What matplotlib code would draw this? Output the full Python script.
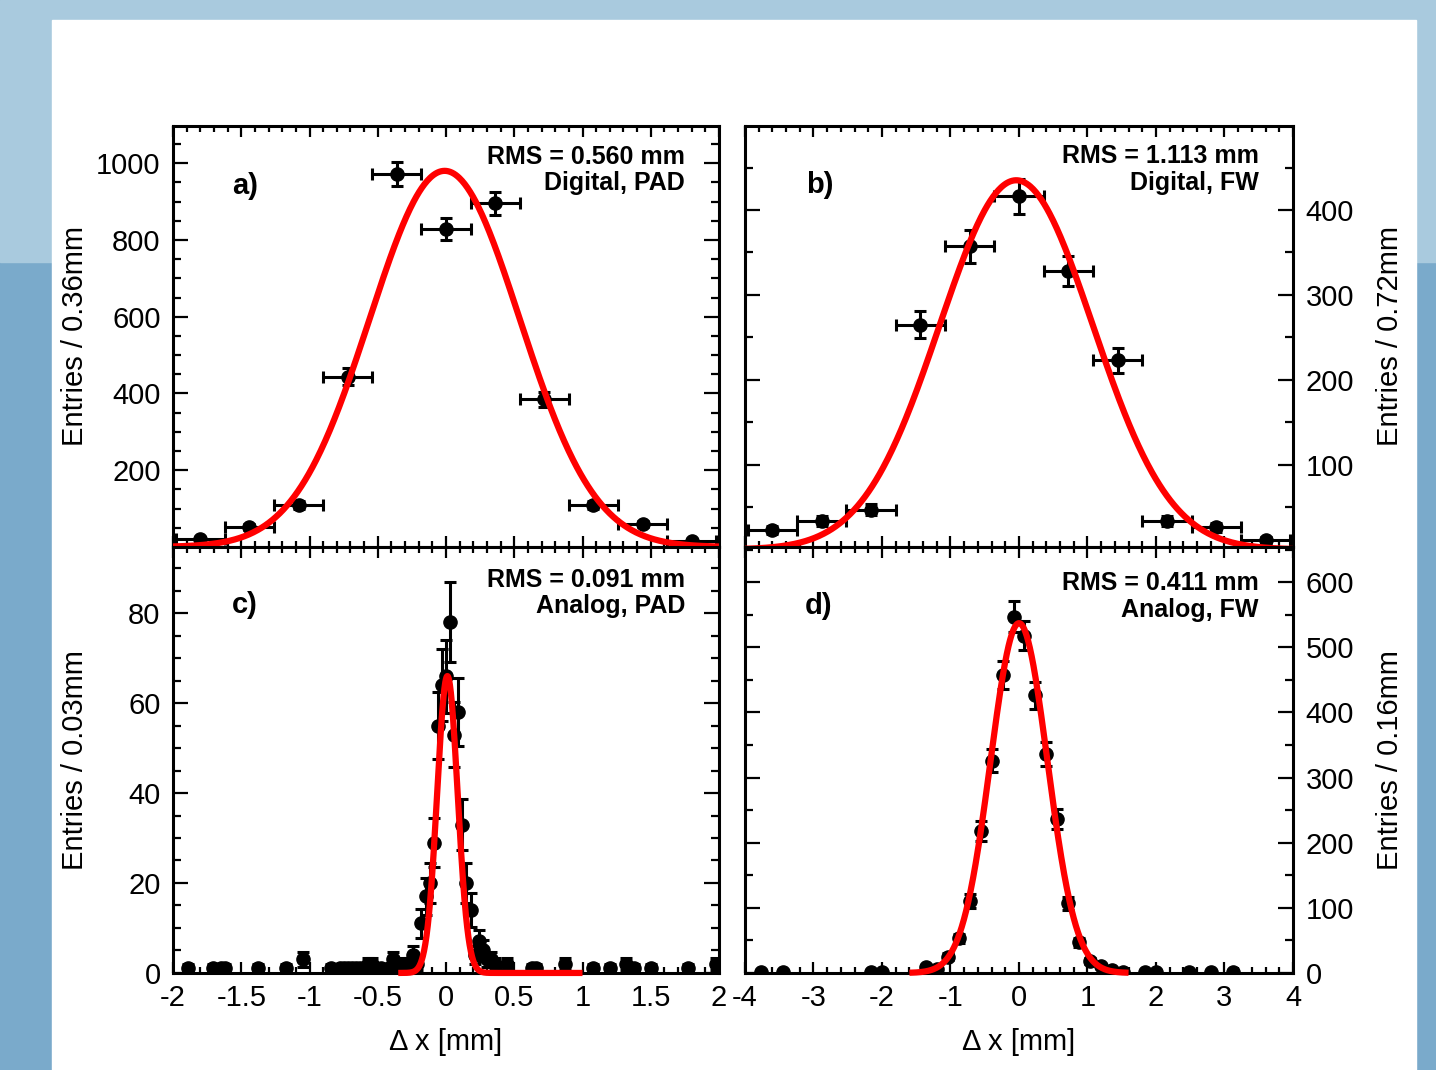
import numpy as np
import matplotlib
matplotlib.use('Agg')
from matplotlib import pyplot as plt
from matplotlib.ticker import MultipleLocator, FixedLocator, FuncFormatter
from matplotlib.patches import Rectangle

plt.rcParams['font.family'] = ['Liberation Sans', 'DejaVu Sans']
plt.rcParams['axes.unicode_minus'] = False

# a) Digital, PAD -- bins of 0.36 mm
a_x = [-1.8, -1.44, -1.08, -0.72, -0.36, 0.0, 0.36, 0.72, 1.08, 1.44, 1.8]
a_n = [22, 52, 109, 444, 972, 829, 896, 385, 110, 59, 16]
a_fit = [980, -0.01, 0.55]          # amplitude, mean, sigma
a_fit_range = [-2.0, 2.0]

# b) Digital, FW -- bins of 0.72 mm
b_x = [-3.6, -2.88, -2.16, -1.44, -0.72, 0.0, 0.72, 1.44, 2.16, 2.88, 3.6]
b_n = [23, 34, 47, 265, 357, 416, 328, 223, 34, 26, 11]
b_fit = [435, -0.04, 1.12]
b_fit_range = [-4.0, 4.0]

# c) Analog, PAD -- bins of 0.03 mm (empty bins not drawn)
c_x = [-1.89, -1.71, -1.65, -1.62, -1.38, -1.17, -1.05, -0.84, -0.78, -0.75,
       -0.72, -0.69, -0.66, -0.63, -0.57, -0.54, -0.51, -0.48, -0.42, -0.39,
       -0.36, -0.33, -0.30, -0.27, -0.24, -0.21, -0.18, -0.15, -0.12, -0.09,
       -0.06, -0.03, 0.0, 0.03, 0.06, 0.09, 0.12, 0.15, 0.18, 0.21,
       0.24, 0.27, 0.30, 0.33, 0.36, 0.45, 0.63, 0.66, 0.87, 1.08,
       1.20, 1.32, 1.38, 1.50, 1.77, 1.98]
c_n = [1, 1, 1, 1, 1, 1, 3, 1, 1, 1,
       1, 1, 1, 1, 2, 2, 1, 1, 1, 3,
       1, 2, 1, 2, 4, 2, 11, 17, 20, 29,
       55, 64, 66, 78, 53, 58, 33, 20, 14, 4,
       7, 5, 3, 3, 2, 2, 1, 1, 2, 1,
       1, 2, 1, 1, 1, 2]
c_fit = [66, 0.01, 0.075]
c_fit_range = [-0.35, 1.0]

# d) Analog, FW -- bins of 0.16 mm
d_x = [-3.76, -3.44, -2.16, -2.0, -1.36, -1.2, -1.04, -0.88, -0.72, -0.56,
       -0.4, -0.24, -0.08, 0.08, 0.24, 0.4, 0.56, 0.72, 0.88, 1.04,
       1.2, 1.36, 1.52, 1.84, 2.0, 2.48, 2.8, 3.12]
d_n = [1, 1, 1, 1, 9, 6, 25, 53, 111, 218,
       326, 457, 547, 518, 426, 336, 237, 107, 47, 18,
       11, 5, 2, 1, 1, 1, 1, 1]
d_fit = [537, 0.0, 0.415]
d_fit_range = [-1.6, 1.6]

x_label = 'Δ x [mm]'


def gaus(x, p):
    return p[0] * np.exp(-0.5 * ((x - p[1]) / p[2]) ** 2)


def short_num(v, pos):
    v = round(v, 6)
    if v == 0:
        return '0'
    return '%g' % v


def draw_panel(ax, x, n, binw, fit, fit_range, xlim, ylim, yticks, yminor,
               xmajor, xminor, rms, tag, letter, ylabel, side):
    n = np.array(n, dtype=float)
    # x errors (half bin); end caps only where the bins are wide
    xcap = 4 if binw > 0.3 else 0
    ax.errorbar(x, n, xerr=binw / 2, fmt='none', ecolor='black',
                elinewidth=2.2, capsize=xcap, capthick=2.2, zorder=2)
    ax.errorbar(x, n, yerr=np.sqrt(n), fmt='o', color='black',
                ms=9.5, elinewidth=2.2, capsize=4, capthick=2.2, zorder=2)
    xf = np.linspace(fit_range[0], fit_range[1], 600)
    ax.plot(xf, gaus(xf, fit), color='red', lw=4.5, zorder=4, clip_on=False,
            solid_capstyle='butt')
    ax.set_xlim(xlim)
    ax.set_ylim(ylim)
    ax.yaxis.set_major_locator(FixedLocator(yticks))
    ax.yaxis.set_minor_locator(MultipleLocator(yminor))
    ax.xaxis.set_major_locator(MultipleLocator(xmajor))
    ax.xaxis.set_minor_locator(MultipleLocator(xminor))
    ax.xaxis.set_major_formatter(FuncFormatter(short_num))
    for s in ax.spines.values():
        s.set_linewidth(2.2)
    ax.tick_params(axis='both', which='both', direction='in', top=True,
                   bottom=True, left=True, right=True, labelsize=21, width=1.6)
    ax.tick_params(axis='y', which='major', length=11, pad=9)
    ax.tick_params(axis='y', which='minor', length=6)
    ax.tick_params(axis='x', which='major', length=8, pad=8)
    ax.tick_params(axis='x', which='minor', length=4.3)
    if side == 'right':
        ax.tick_params(axis='y', labelleft=False, labelright=True)
        ax.yaxis.set_label_position('right')
        ax.set_ylabel(ylabel, fontsize=21)
        ax.yaxis.set_label_coords(1.152, 0.5)
    else:
        ax.set_ylabel(ylabel, fontsize=21)
        ax.yaxis.set_label_coords(-0.154, 0.5)
    ax.text(0.938, rms[1], rms[0], transform=ax.transAxes, ha='right',
            va='center', fontsize=18, fontweight='bold')
    ax.text(0.938, tag[1], tag[0], transform=ax.transAxes, ha='right',
            va='center', fontsize=18, fontweight='bold')
    ax.text(letter[1], letter[2], letter[0], transform=ax.transAxes, ha='left',
            va='center', fontsize=21, fontweight='bold')


fig = plt.figure(figsize=(14.36, 10.70), dpi=100)
# slide background behind the white sheet
fig.patches.append(Rectangle((0, 0), 1, 1, transform=fig.transFigure,
                             color='#7aaacb', zorder=-3))
fig.patches.append(Rectangle((0, 0.755), 1, 0.245, transform=fig.transFigure,
                             color='#a9cade', zorder=-2))
fig.patches.append(Rectangle((52 / 1436, 0), 1364 / 1436, 1 - 20 / 1070,
                             transform=fig.transFigure, color='white', zorder=-1))

ax_a = fig.add_axes([0.1205, 0.4888, 0.3802, 0.3935])
ax_b = fig.add_axes([0.5188, 0.4888, 0.3816, 0.3935])
ax_c = fig.add_axes([0.1205, 0.0907, 0.3802, 0.3981])
ax_d = fig.add_axes([0.5188, 0.0907, 0.3816, 0.3981])

draw_panel(ax_a, a_x, a_n, 0.36, a_fit, a_fit_range, (-2, 2), (0, 1097),
           [200, 400, 600, 800, 1000], 50, 0.5, 0.1,
           ('RMS = 0.560 mm', 0.926), ('Digital, PAD', 0.865), ('a)', 0.108, 0.857),
           'Entries / 0.36mm', 'left')
draw_panel(ax_b, b_x, b_n, 0.72, b_fit, b_fit_range, (-4, 4), (3, 499),
           [100, 200, 300, 400], 50, 1, 0.2,
           ('RMS = 1.113 mm', 0.929), ('Digital, FW', 0.865), ('b)', 0.111, 0.86),
           'Entries / 0.72mm', 'right')
draw_panel(ax_c, c_x, c_n, 0.03, c_fit, c_fit_range, (-2, 2), (0, 94.7),
           [0, 20, 40, 60, 80], 5, 0.5, 0.1,
           ('RMS = 0.091 mm', 0.9225), ('Analog, PAD', 0.8615), ('c)', 0.108, 0.864),
           'Entries / 0.03mm', 'left')
draw_panel(ax_d, d_x, d_n, 0.16, d_fit, d_fit_range, (-4, 4), (0, 654),
           [0, 100, 200, 300, 400, 500, 600], 50, 1, 0.2,
           ('RMS = 0.411 mm', 0.9155), ('Analog, FW', 0.852), ('d)', 0.1095, 0.8615),
           'Entries / 0.16mm', 'right')

for ax in (ax_a, ax_b):
    ax.tick_params(axis='x', labelbottom=False)
for ax in (ax_c, ax_d):
    ax.set_xlabel(x_label, fontsize=21)
    ax.xaxis.set_label_coords(0.5, -0.129)

plt.savefig('out.png', dpi=100)
plt.close()
